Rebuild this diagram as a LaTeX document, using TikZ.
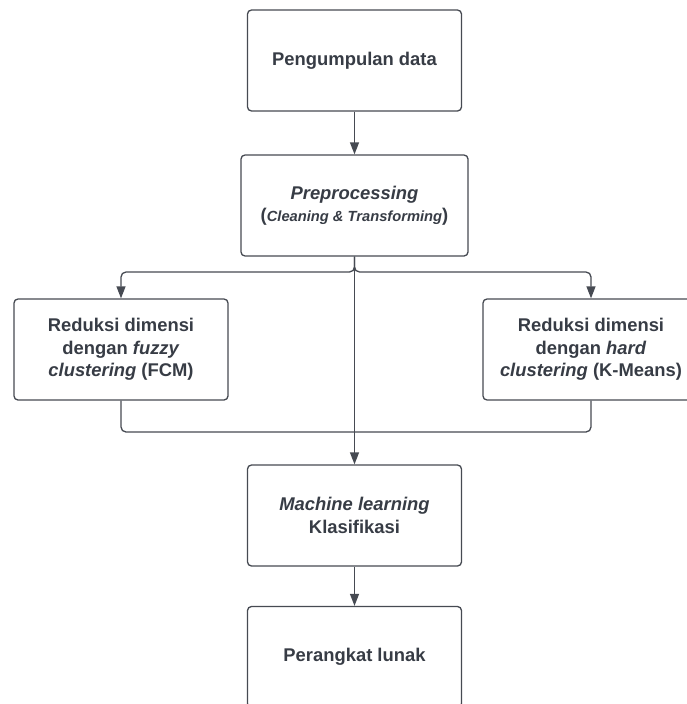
\documentclass[tikz,border=0pt]{standalone}
\usepackage{fontspec}
\setmainfont{Liberation Sans}
\usetikzlibrary{arrows.meta}
\definecolor{textgray}{HTML}{373C45}
\definecolor{linegray}{HTML}{464A52}

\begin{document}
\begin{tikzpicture}[x=1pt, y=-1pt, >={Triangle[length=12pt,width=9pt]}, line width=1.3pt,
	box/.style={draw=linegray, rounded corners=4pt, minimum width=214pt, minimum height=101pt,
		inner sep=0pt, align=center, text=textgray, font=\fontsize{18.4}{22.5}\selectfont\bfseries}]
	\useasboundingbox (0,0) rectangle (686,704);

	% Nodes {data, pre, fcm, hard, ml, soft}
	\node [box]                        (data) at (354.5,60.5)  {Pengumpulan data};
	\node [box, minimum width=227pt]   (pre)  at (354.5,205.5) {\textit{Preprocessing}\\(\textit{\fontsize{14.7}{18}\selectfont Cleaning \& Transforming})};
	\node [box]                        (fcm)  at (121,349.5)   {Reduksi dimensi\\dengan \textit{fuzzy}\\\textit{clustering} (FCM)};
	\node [box, minimum width=216pt]   (hard) at (591,349.5)   {Reduksi dimensi\\dengan \textit{hard}\\\textit{clustering} (K-Means)};
	\node [box]                        (ml)   at (354.5,515.5) {\textit{Machine learning}\\Klasifikasi};
	\node [box]                        (soft) at (354.5,657)   {Perangkat lunak};

	\coordinate (split) at (354.5,272);
	\coordinate (merge) at (354.5,432);

	% Paths
	\draw [->, draw=linegray, fill=linegray] (data) -- (pre);
	\draw [->, draw=linegray, rounded corners=5pt] (pre.south) -- (split) -| (fcm.north);
	\draw [->, draw=linegray, rounded corners=5pt] (pre.south) -- (split) -| (hard.north);
	\draw [->, draw=linegray] (pre.south) -- (ml.north);
	\draw [draw=linegray, rounded corners=5pt] (fcm.south) |- (merge);
	\draw [draw=linegray, rounded corners=5pt] (hard.south) |- (merge);
	\draw [->, draw=linegray] (ml) -- (soft);

\end{tikzpicture}
\end{document}
